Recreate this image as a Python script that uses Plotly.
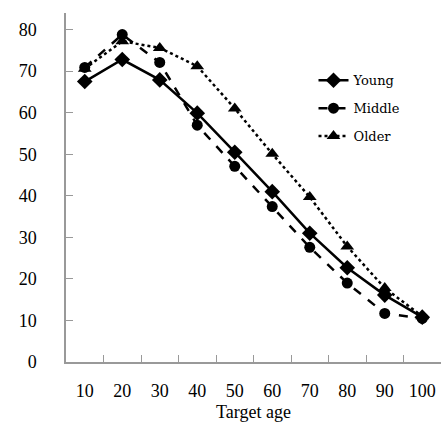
import plotly.graph_objects as go

ages = ["10", "20", "30", "40", "50", "60", "70", "80", "90", "100"]
young = [67.5, 72.8, 67.9, 59.9, 50.5, 41.0, 31.0, 22.7, 16.1, 10.8]
middle = [70.9, 78.8, 72.1, 57.0, 47.1, 37.4, 27.6, 19.0, 11.7, 10.5]
older = [70.6, 77.2, 75.6, 71.2, 61.0, 50.1, 39.7, 27.8, 17.8, 11.0]

FONT = "Liberation Serif"
fig = go.Figure()
fig.add_trace(go.Scatter(x=ages, y=young, name="Young", mode="lines+markers",
                         legendgroup="a",
                         line=dict(color="black", width=2.5, dash="solid"),
                         marker=dict(symbol="diamond", size=12, color="black")))
fig.add_trace(go.Scatter(x=ages, y=middle, name="Middle", mode="lines+markers",
                         legendgroup="b",
                         line=dict(color="black", width=2.5, dash="dash"),
                         marker=dict(symbol="circle", size=11, color="black")))
fig.add_trace(go.Scatter(x=ages, y=older, name="Older", mode="lines+markers",
                         legendgroup="c",
                         line=dict(color="black", width=2.5, dash="dot"),
                         marker=dict(symbol="triangle-up", size=12, color="black")))

fig.update_layout(
    width=443, height=422,
    margin=dict(l=66, r=2, t=13, b=60),
    plot_bgcolor="white", paper_bgcolor="white",
    font=dict(family=FONT, size=18, color="black"),
    showlegend=True,
    legend=dict(x=0.66, y=0.85, xanchor="left", yanchor="top",
                font=dict(family="DejaVu Serif", size=13),
                traceorder="grouped", tracegroupgap=8,
                bgcolor="rgba(0,0,0,0)"),
    xaxis=dict(type="category", range=[-0.5, 9.5], tickson="boundaries",
               ticks="inside", ticklen=7, tickcolor="#999999",
               showline=True, linecolor="#999999", linewidth=1.5,
               showgrid=False, zeroline=False, ticklabelstandoff=12,
               automargin=False,
               title=dict(text="Target age", standoff=24,
                          font=dict(family=FONT, size=18))),
    yaxis=dict(range=[0, 84], tickvals=[0, 10, 20, 30, 40, 50, 60, 70, 80],
               ticks="inside", ticklen=7, tickcolor="#999999",
               showline=True, linecolor="#999999", linewidth=1.5,
               showgrid=False, zeroline=False, ticklabelstandoff=24,
               automargin=False),
)

fig.write_html("out.html", config={"displayModeBar": False},
               post_script="document.body.style.margin='0';document.body.style.overflow='hidden';")
